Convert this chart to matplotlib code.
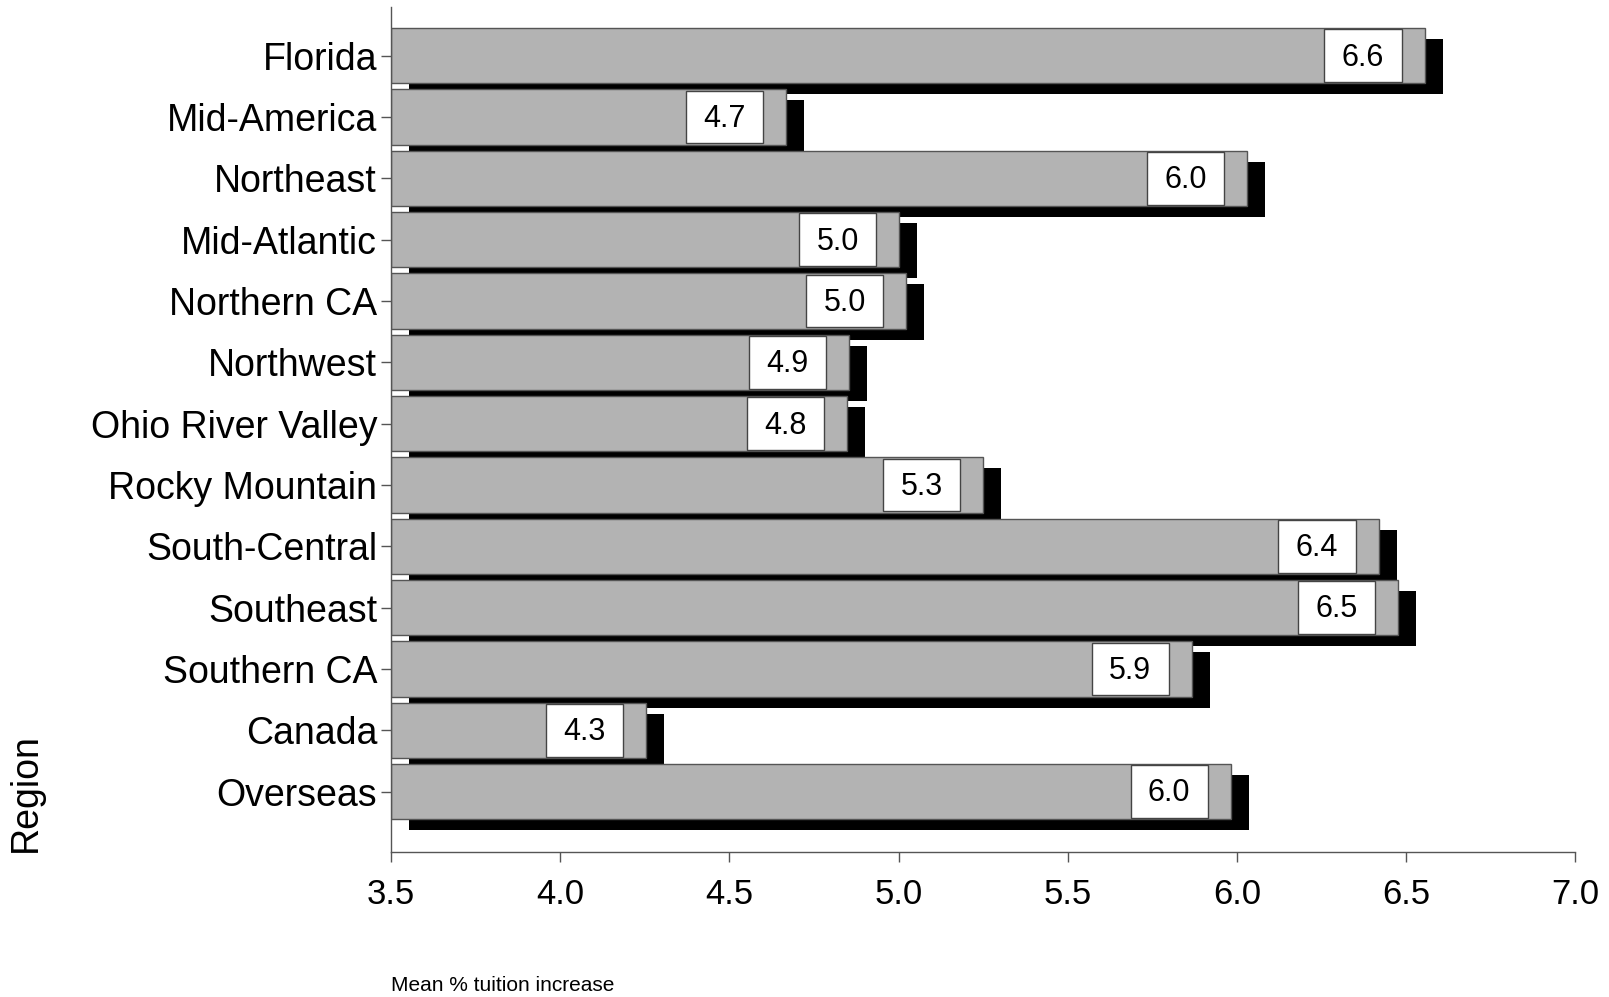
import matplotlib.pyplot as plt
import numpy as np
from matplotlib.patches import Rectangle

plt.rcParams['font.family'] = ['Liberation Sans', 'DejaVu Sans']

regions = ["Florida", "Mid-America", "Northeast", "Mid-Atlantic", "Northern CA",
           "Northwest", "Ohio River Valley", "Rocky Mountain", "South-Central",
           "Southeast", "Southern CA", "Canada", "Overseas"]
values = [6.555, 4.668, 6.031, 5.002, 5.023, 4.853, 4.847, 5.251, 6.419,
          6.477, 5.867, 4.255, 5.982]
labels = ["6.6", "4.7", "6.0", "5.0", "5.0", "4.9", "4.8", "5.3", "6.4",
          "6.5", "5.9", "4.3", "6.0"]

base = 3.5
y = np.arange(len(regions))
widths = np.array(values) - base

fig = plt.figure(figsize=(16.09, 9.97), dpi=100)
ax = fig.add_axes([0.243, 0.1457, 0.736, 0.847])

# drop shadows, then the bars on top
dx, dy = 0.053, 0.18
ax.barh(y + dy, widths, left=base + dx, height=0.9, color="black", zorder=1)
ax.barh(y, widths, left=base, height=0.9, color="#b3b3b3",
        edgecolor="#555555", linewidth=1, zorder=2)

# white value boxes near the bar ends
bw, gap, bh = 0.228, 0.068, 0.86
for yi, v, lab in zip(y, values, labels):
    x0 = v - gap - bw
    ax.add_patch(Rectangle((x0, yi - bh / 2), bw, bh, facecolor="white",
                           edgecolor="#444444", linewidth=1, zorder=3))
    ax.text(x0 + bw / 2, yi + 0.03, lab, ha="center", va="center", fontsize=22, zorder=4)

ax.set_xlim(3.5, 7.0)
ax.set_ylim(12.98, -0.79)
ax.set_xticks(np.arange(3.5, 7.01, 0.5))
ax.set_xticklabels([f"{t:.1f}" for t in np.arange(3.5, 7.01, 0.5)], fontsize=25)
ax.set_yticks(y)
ax.set_yticklabels(regions, fontsize=27)
ax.tick_params(axis="both", direction="out", length=7, width=1, color="#555555")
ax.tick_params(axis="x", pad=12)
ax.tick_params(axis="y", pad=3)

for s in ["top", "right"]:
    ax.spines[s].set_visible(False)
for s in ["left", "bottom"]:
    ax.spines[s].set_color("#555555")
    ax.spines[s].set_linewidth(1)

fig.text(391 / 1609, 1 - 985 / 997, "Mean % tuition increase", ha="left", va="center", fontsize=15)
fig.text(26 / 1609, 1 - 852 / 997, "Region", rotation=90, ha="center", va="bottom", fontsize=27)

fig.savefig("out.png", dpi=100)
